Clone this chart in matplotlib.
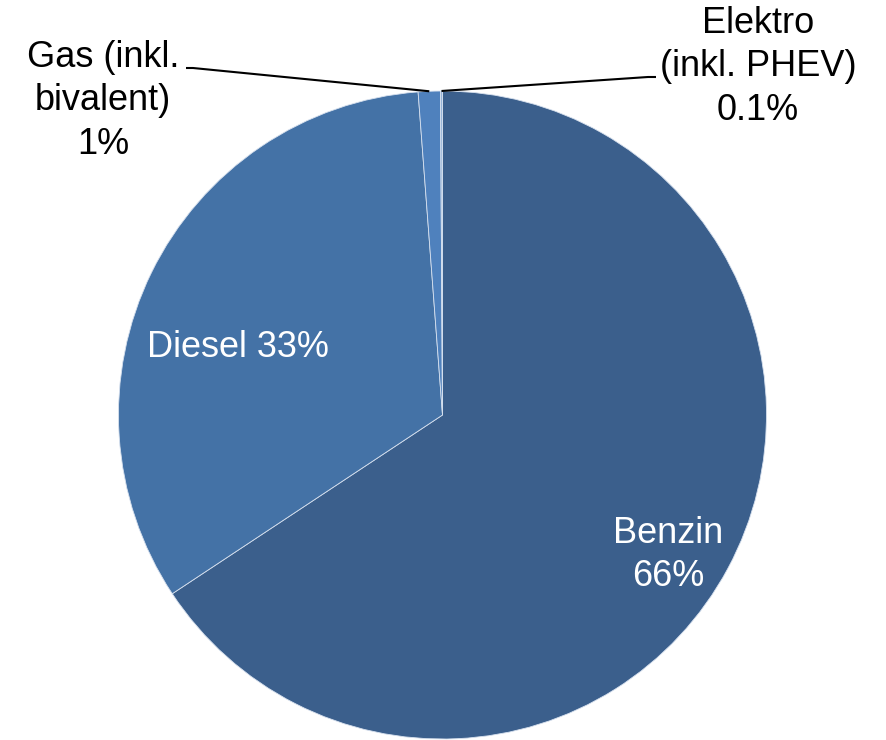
import matplotlib
matplotlib.use("Agg")
import matplotlib.pyplot as plt
import numpy as np

categories = ["Benzin", "Diesel", "Gas (inkl.\nbivalent)", "Elektro\n(inkl. PHEV)"]
shares = [65.7, 33.1, 1.1, 0.1]
colors = ["#3b5f8c", "#4472a6", "#4f81bd", "#95b3d7"]

def fmt(v):
    return f"{v:.1f}%" if v < 1 else f"{round(v):.0f}%"

plt.rcParams["font.family"] = ["Liberation Sans", "DejaVu Sans"]

W, H, DPI = 886, 740, 100
fig = plt.figure(figsize=(W / DPI, H / DPI), dpi=DPI)
ax = fig.add_axes([0, 0, 1, 1])

R_PX = 324.0
CX, CY = 442.5, 415.0

def px(x, y):
    return ((x - CX) / R_PX, (CY - y) / R_PX)

wedges, _ = ax.pie(shares, colors=colors, startangle=90, counterclock=False,
                   radius=1.0, wedgeprops=dict(edgecolor="#d6e0ee", linewidth=0.6))

ax.set_xlim(px(0, 0)[0], px(W, 0)[0])
ax.set_ylim(px(0, H)[1], px(0, 0)[1])
ax.set_aspect("equal")
ax.axis("off")

fs = 26
ls = 1.33
# inner labels
ax.text(*px(238, 348), f"{categories[1]} {fmt(shares[1])}", color="white",
        fontsize=fs, ha="center", va="center")
ax.text(*px(668, 555), f"{categories[0]}\n{fmt(shares[0])}", color="white",
        fontsize=fs, ha="center", va="center", linespacing=ls)

# outer labels with leader lines
def mid_point(w, r=1.0):
    ang = np.deg2rad((w.theta1 + w.theta2) / 2)
    return r * np.cos(ang), r * np.sin(ang)

gx, gy = mid_point(wedges[2])
ex, ey = mid_point(wedges[3])
g0 = px(186, 68)
g1 = px(193, 68)
ax.plot([g0[0], g1[0], gx], [g0[1], g1[1], gy], color="black", lw=1.5,
        solid_capstyle="butt")
e0 = px(656, 77)
e1 = px(648, 77)
ax.plot([ex, e1[0], e0[0]], [ey, e1[1], e0[1]], color="black", lw=1.5,
        solid_capstyle="butt")

ax.text(*px(103, 101), f"{categories[2]}\n{fmt(shares[2])}", color="black",
        fontsize=fs, ha="center", va="center", linespacing=ls)
ax.text(*px(758, 67), f"{categories[3]}\n{fmt(shares[3])}", color="black",
        fontsize=fs, ha="center", va="center", linespacing=ls)

fig.savefig("out.png", dpi=DPI, facecolor="white")
